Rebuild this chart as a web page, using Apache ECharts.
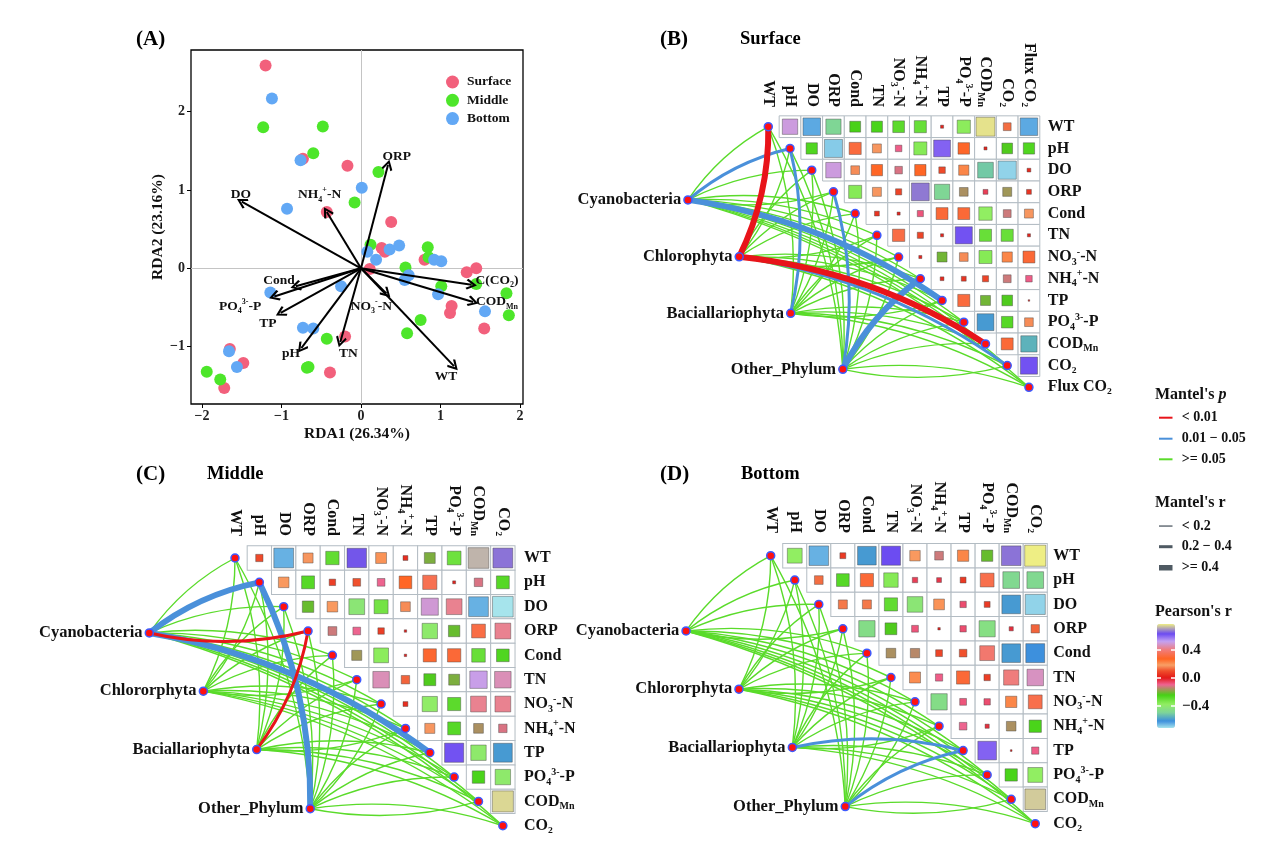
<!DOCTYPE html>
<html><head><meta charset="utf-8">
<script src="https://cdn.jsdelivr.net/npm/echarts@6/dist/echarts.min.js"></script>
<style>html,body{margin:0;padding:0;background:#fff}#c{width:1269px;height:861px}</style>
</head><body><div id="c"></div>
<script>
// ---------------- DATA ----------------
// Panel A : RDA site scores
const surfacePts = [[-1.20,2.59],[-0.73,1.40],[-0.17,1.31],[-0.43,0.72],[0.38,0.59],[0.26,0.26],[0.30,0.21],[0.80,0.11],[0.11,-0.01],[1.33,-0.05],[1.45,0.00],[1.14,-0.48],[1.12,-0.57],[1.55,-0.77],[-0.20,-0.87],[-0.39,-1.33],[-1.65,-1.03],[-1.48,-1.21],[-1.72,-1.53]];
const middlePts = [[-1.23,1.80],[-0.48,1.81],[-0.60,1.47],[0.22,1.23],[-0.08,0.84],[0.12,0.30],[0.84,0.27],[0.85,0.14],[0.56,0.01],[1.01,-0.23],[1.45,-0.20],[1.83,-0.32],[1.86,-0.60],[0.75,-0.66],[0.58,-0.83],[-0.43,-0.90],[-0.68,-1.27],[-0.66,-1.26],[-1.94,-1.32],[-1.77,-1.42]];
const bottomPts = [[-1.12,2.17],[-0.76,1.38],[0.01,1.03],[-0.93,0.76],[0.08,0.21],[0.19,0.11],[0.36,0.24],[0.48,0.29],[0.92,0.11],[1.01,0.09],[0.60,-0.09],[0.55,-0.15],[0.97,-0.33],[1.56,-0.55],[-0.25,-0.23],[-1.14,-0.31],[-0.73,-0.76],[-0.60,-0.77],[-1.66,-1.06],[-1.56,-1.26]];
// RDA environmental arrows
const arrowNames = ['ORP','DO','NH4','Cond','PO4','TP','pH','TN','NO3','WT','CCO2','COD'];
const arrowEnds = [[0.34,1.32],[-1.50,0.85],[-0.43,0.72],[-0.82,-0.23],[-1.09,-0.36],[-1.01,-0.57],[-0.75,-1.02],[-0.26,-0.94],[0.32,-0.32],[1.17,-1.25],[1.39,-0.21],[1.41,-0.43]];
const arrowLabelAt = [[0.45,1.43],[-1.51,0.94],[-0.52,0.94],[-1.03,-0.15],[-1.52,-0.49],[-1.17,-0.70],[-0.88,-1.09],[-0.16,-1.09],[0.13,-0.49],[1.07,-1.38],[1.71,-0.16],[1.71,-0.43]];
const rdaTicksX = [-2,-1,0,1,2];
const rdaTicksY = [-1,0,1,2];

// Mantel panels : variables
const envSurface = ['WT','pH','DO','ORP','Cond','TN','NO3','NH4','TP','PO4','COD','CO2','Flux'];
const envLayer = ['WT','pH','DO','ORP','Cond','TN','NO3','NH4','TP','PO4','COD','CO2'];
const phylaSurface = ['Cyanobacteria','Chlorophyta','Baciallariophyta','Other_Phylum'];
const phylaLayer = ['Cyanobacteria','Chlororphyta','Baciallariophyta','Other_Phylum'];

// Pearson's r, upper triangle (row i, columns i+1..)
const surfR = [
 [0.50,-0.65,-0.49,-0.25,-0.26,-0.29,-0.31,0.02,-0.37,0.76,0.13,-0.65],
 [-0.27,-0.69,0.31,0.17,-0.09,-0.36,0.60,0.28,0.02,-0.24,-0.27],
 [0.50,0.16,0.27,-0.12,0.27,0.09,0.22,-0.52,-0.70,0.03],
 [-0.36,0.17,0.08,0.67,-0.49,-0.16,-0.05,-0.17,0.05],
 [0.05,0.02,-0.08,0.30,0.30,-0.38,-0.13,0.17],
 [0.32,0.08,0.02,0.62,-0.31,-0.31,0.02],
 [0.02,-0.21,0.16,-0.36,0.22,0.30],
 [0.03,0.05,0.08,-0.13,-0.09],
 [0.31,-0.21,-0.24,0.005],
 [-0.60,-0.28,0.16],
 [0.30,-0.56],
 [0.62]
];
const midR = [
 [0.09,-0.66,0.17,-0.30,0.64,0.20,0.04,-0.20,-0.32,0.72,0.665],
 [0.19,-0.28,0.07,0.10,-0.10,0.27,0.34,0.015,-0.12,-0.28],
 [-0.22,0.19,-0.42,-0.33,0.16,0.49,0.42,-0.66,-0.72],
 [-0.13,-0.10,0.07,0.01,-0.40,-0.22,0.32,0.42],
 [-0.17,-0.37,0.01,0.29,0.30,-0.31,-0.27],
 [0.46,0.12,-0.24,-0.20,0.51,0.46],
 [0.04,-0.39,-0.29,0.42,0.42],
 [0.17,-0.28,-0.16,-0.12],
 [0.62,-0.40,-0.60],
 [-0.26,-0.40],
 [0.75]
];
const botR = [
 [-0.38,-0.66,0.06,-0.60,0.63,0.19,-0.13,0.22,-0.22,0.665,0.77],
 [0.13,-0.28,0.30,-0.36,-0.05,-0.04,0.06,0.33,-0.48,-0.48],
 [0.14,0.14,-0.30,-0.42,0.20,-0.07,0.06,-0.60,-0.70],
 [-0.46,-0.24,-0.08,0.01,-0.07,-0.45,-0.03,0.12],
 [-0.16,-0.15,0.08,0.10,0.38,-0.60,-0.62],
 [0.21,-0.09,0.30,0.07,0.40,0.47],
 [-0.46,-0.08,-0.07,0.22,0.33],
 [-0.10,-0.03,-0.16,-0.26],
 [0.60,0.005,-0.09],
 [-0.26,-0.38],
 [0.74]
];
// Mantel test p and r (rows: phyla, columns: variables)
const surfMantelP = [
 [0.21,0.032,0.35,0.18,0.44,0.27,0.52,0.16,0.021,0.38,0.25,0.31,0.47],
 [0.004,0.29,0.41,0.22,0.36,0.58,0.19,0.27,0.33,0.12,0.006,0.038,0.23],
 [0.17,0.027,0.46,0.31,0.29,0.62,0.35,0.24,0.55,0.41,0.28,0.37,0.19],
 [0.26,0.34,0.48,0.035,0.22,0.39,0.57,0.014,0.18,0.43,0.21,0.29,0.33]
];
const surfMantelR = [
 [0.15,0.31,0.08,0.12,0.06,0.10,0.05,0.14,0.46,0.09,0.11,0.07,0.06],
 [0.48,0.09,0.06,0.11,0.07,0.05,0.13,0.08,0.10,0.16,0.47,0.29,0.12],
 [0.13,0.30,0.06,0.09,0.10,0.05,0.08,0.11,0.06,0.07,0.12,0.09,0.14],
 [0.11,0.08,0.06,0.27,0.12,0.09,0.05,0.44,0.13,0.07,0.12,0.10,0.09]
];
const midMantelP = [
 [0.23,0.018,0.31,0.008,0.27,0.36,0.41,0.19,0.012,0.44,0.29,0.33],
 [0.28,0.37,0.22,0.46,0.19,0.51,0.33,0.26,0.41,0.18,0.35,0.24],
 [0.31,0.24,0.42,0.007,0.36,0.28,0.49,0.21,0.38,0.27,0.45,0.33],
 [0.19,0.026,0.35,0.28,0.44,0.31,0.22,0.39,0.27,0.52,0.17,0.36]
];
const midMantelR = [
 [0.12,0.47,0.09,0.26,0.11,0.07,0.10,0.13,0.45,0.06,0.09,0.08],
 [0.11,0.08,0.13,0.06,0.12,0.05,0.09,0.10,0.07,0.14,0.08,0.11],
 [0.09,0.12,0.07,0.27,0.08,0.11,0.06,0.13,0.09,0.10,0.07,0.12],
 [0.13,0.49,0.08,0.10,0.06,0.12,0.14,0.07,0.11,0.05,0.15,0.09]
];
const botMantelP = [
 [0.27,0.34,0.19,0.41,0.23,0.36,0.48,0.29,0.31,0.44,0.22,0.38],
 [0.33,0.21,0.45,0.28,0.39,0.17,0.52,0.26,0.35,0.41,0.24,0.30],
 [0.24,0.31,0.37,0.22,0.46,0.29,0.18,0.42,0.024,0.35,0.27,0.33],
 [0.29,0.26,0.41,0.34,0.21,0.47,0.32,0.25,0.031,0.39,0.28,0.36]
];
const botMantelR = [
 [0.12,0.08,0.14,0.07,0.10,0.06,0.05,0.11,0.09,0.07,0.13,0.08],
 [0.10,0.13,0.06,0.11,0.08,0.15,0.05,0.12,0.09,0.07,0.11,0.10],
 [0.13,0.09,0.07,0.12,0.06,0.10,0.14,0.08,0.26,0.09,0.11,0.07],
 [0.11,0.12,0.07,0.09,0.13,0.06,0.10,0.12,0.28,0.08,0.10,0.09]
];
// phylum anchor nodes (in cell units of each panel)
const phylaAtSurface = [[-3.70,3.37],[-1.34,5.99],[1.03,8.59],[3.43,11.17]];
const phylaAtMiddle = [[-3.52,3.08],[-1.30,5.47],[0.89,7.87],[3.09,10.30]];
const phylaAtBottom = [[-3.52,3.09],[-1.32,5.48],[0.90,7.87],[3.10,10.30]];
// Pearson colour scale
const pearsonRange = [-0.72, 0.77];
const pearsonTicks = [-0.4, 0, 0.4];
const pearsonStops = [[-0.72,'#A6E4EC'],[-0.62,'#3C8FDD'],[-0.50,'#7ED49A'],[-0.38,'#92EE62'],[-0.25,'#44D214'],[-0.10,'#F06494'],[0.0,'#E21818'],[0.10,'#F0502C'],[0.18,'#F8A066'],[0.27,'#FF6422'],[0.40,'#F07C7C'],[0.52,'#C4A2F2'],[0.63,'#6A4AF2'],[0.77,'#EEEE84']];

// ---------------- STYLE / HELPERS ----------------
const FONT = "'Times New Roman','Liberation Serif',serif";
const TXT = '#111';
const RED = '#E8141A', BLUE = '#4A90DA', GREEN = '#5ADB2A';
function mkRich(fs){
  const s = Math.round(fs*0.62);
  return {
    m:{fontFamily:FONT,fontWeight:'bold',fontSize:fs,color:TXT,lineHeight:fs+4},
    sb:{fontFamily:FONT,fontWeight:'bold',fontSize:s,color:TXT,verticalAlign:'bottom'},
    sp:{fontFamily:FONT,fontWeight:'bold',fontSize:s,color:TXT,verticalAlign:'top'}
  };
}
function richName(c){
  switch(c){
    case 'NH4': return '{m|NH}{sb|4}{sp|+}{m|-N}';
    case 'NO3': return '{m|NO}{sb|3}{sp|-}{m|-N}';
    case 'PO4': return '{m|PO}{sb|4}{sp|3-}{m|-P}';
    case 'COD': return '{m|COD}{sb|Mn}';
    case 'CO2': return '{m|CO\u2082}';
    case 'Flux': return '{m|Flux CO\u2082}';
    case 'CCO2': return '{m|C(CO\u2082)}';
    default: return '{m|'+c+'}';
  }
}
function pColor(p){ return p < 0.01 ? RED : (p < 0.05 ? BLUE : GREEN); }
function rWidth(r){ return r < 0.2 ? 1.4 : (r < 0.4 ? 3 : 6); }
function curv(x1,y1,x2,y2,cw,ch){
  const dx=(x2-x1)*cw, dyUp=-(y2-y1)*ch;
  const ang=Math.atan2(dyUp,dx)*180/Math.PI;
  const k=0.12;
  if (ang < -0.5) return k;
  if (ang < 10) return -k;
  if (ang <= 55) return k;
  return -k;
}
function hex2rgb(h){ return [parseInt(h.substr(1,2),16),parseInt(h.substr(3,2),16),parseInt(h.substr(5,2),16)]; }
function colorAt(v){
  for (let i=0;i<pearsonStops.length-1;i++){
    const a=pearsonStops[i], b=pearsonStops[i+1];
    if (v<=b[0]){ const t=(v-a[0])/(b[0]-a[0]); const ca=hex2rgb(a[1]), cb=hex2rgb(b[1]);
      return 'rgb('+ca.map((x,k)=>Math.round(x+(cb[k]-x)*t)).join(',')+')'; }
  }
  return pearsonStops[pearsonStops.length-1][1];
}
const colorArr=[]; for(let i=0;i<=150;i++){ colorArr.push(colorAt(pearsonRange[0]+(pearsonRange[1]-pearsonRange[0])*i/150)); }

const grids=[], xAxes=[], yAxes=[], series=[], squareIdx=[];

// ---------------- PANEL A ----------------
grids.push({left:191, top:50, width:332, height:354, show:true, borderColor:'#000', borderWidth:1.3, outerBoundsMode:'none'});
const minusFmt = v => (v<0 ? '\u2212'+(-v) : String(v));
xAxes.push({gridIndex:0, type:'value', min:-2.138, max:2.038,
  axisLine:{show:false,onZero:false}, splitLine:{show:false},
  axisTick:{show:true, customValues:rdaTicksX, length:4, lineStyle:{color:'#000',width:1}},
  axisLabel:{customValues:rdaTicksX, formatter:minusFmt, margin:5, fontFamily:FONT, fontWeight:'bold', fontSize:14, color:'#222'},
  name:'RDA1 (26.34%)', nameLocation:'middle', nameGap:22, nameTextStyle:{fontFamily:FONT,fontWeight:'bold',fontSize:15.5,color:TXT}});
yAxes.push({gridIndex:0, type:'value', min:-1.733, max:2.788,
  axisLine:{show:false,onZero:false}, splitLine:{show:false},
  axisTick:{show:true, customValues:rdaTicksY, length:4, lineStyle:{color:'#000',width:1}},
  axisLabel:{customValues:rdaTicksY, formatter:minusFmt, margin:6, fontFamily:FONT, fontWeight:'bold', fontSize:14, color:'#222'},
  name:'RDA2 (23.16%)', nameLocation:'middle', nameGap:24, nameTextStyle:{fontFamily:FONT,fontWeight:'bold',fontSize:15.5,color:TXT}});
const grpColors = {Surface:'#F2607C', Middle:'#4DE62A', Bottom:'#62A8F5'};
[['Surface',surfacePts],['Middle',middlePts],['Bottom',bottomPts]].forEach(([nm,pts],k)=>{
  const s = {type:'scatter', name:nm, xAxisIndex:0, yAxisIndex:0, data:pts, symbolSize:12,
    itemStyle:{color:grpColors[nm], opacity:1}, z:2, silent:true};
  if (k===0) s.markLine = {silent:true, symbol:'none', label:{show:false}, lineStyle:{color:'#c4c4c4', type:'solid', width:1}, data:[{xAxis:0},{yAxis:0}], z:1};
  series.push(s);
});
series.push({type:'lines', coordinateSystem:'cartesian2d', xAxisIndex:0, yAxisIndex:0, silent:true, z:3,
  symbol:['none','path://M5,0 L10,8.6 L8.5,10 L5,3.6 L1.5,10 L0,8.6 Z'], symbolSize:11,
  lineStyle:{color:'#000', width:2, opacity:1},
  data: arrowEnds.map(e=>({coords:[[0,0],e]}))});
series.push({type:'scatter', xAxisIndex:0, yAxisIndex:0, silent:true, z:4, symbolSize:1, itemStyle:{color:'rgba(0,0,0,0)', opacity:1},
  data: arrowLabelAt.map((p,i)=>({value:p, name:arrowNames[i]})),
  label:{show:true, position:'inside', formatter:p=>richName(p.name), rich:mkRich(13.5)}});

// ---------------- MANTEL PANELS ----------------
function buildMantel(P){
  const gi = grids.length;
  const {ox,oy,cw,ch,xr,yr} = P;
  grids.push({left:ox+xr[0]*cw, top:oy+yr[0]*ch, width:(xr[1]-xr[0])*cw, height:(yr[1]-yr[0])*ch, outerBoundsMode:'none'});
  const idx = P.names.map((_,i)=>i);
  const rich = mkRich(16);
  xAxes.push({gridIndex:gi, type:'value', min:xr[0], max:xr[1], position:'top',
    axisLine:{show:false,onZero:false}, axisTick:{show:false}, splitLine:{show:false},
    axisLabel:{customValues:idx, rotate:90, margin:3, formatter:v=>richName(P.names[Math.round(v)]), rich}});
  yAxes.push({gridIndex:gi, type:'value', inverse:true, min:yr[0], max:yr[1], position:'right',
    axisLine:{show:false,onZero:false}, axisTick:{show:false}, splitLine:{show:false},
    axisLabel:{customValues:idx, margin:P.rowGap, formatter:v=>richName(P.names[Math.round(v)]), rich}});
  const ax = {xAxisIndex:gi, yAxisIndex:gi};
  const bg=[], sq=[];
  P.r.forEach((row,i)=>row.forEach((v,k)=>{const j=i+1+k; bg.push([j,i]); sq.push([j,i,v]);}));
  series.push({type:'scatter', ...ax, data:bg, symbol:'rect', symbolSize:[cw,ch], silent:true, z:1, clip:false,
    itemStyle:{color:'#fff', borderColor:'#B3BCC3', borderWidth:1, opacity:1}});
  squareIdx.push(series.length);
  const cs = Math.min(cw,ch);
  series.push({type:'scatter', ...ax, data:sq, symbol:'rect', symbolSize:v=>Math.sqrt(Math.abs(v[2]))*cs, silent:true, z:2, clip:false,
    itemStyle:{borderColor:'rgba(70,70,70,0.55)', borderWidth:0.8, opacity:1}});
  const links=[];
  P.phylaAt.forEach((pp,a)=>P.names.forEach((n,t)=>{
    const p=P.mp[a][t], r=P.mr[a][t];
    links.push({p:p, coords:[pp,[t,t]], lineStyle:{color:pColor(p), width:rWidth(r), curveness:curv(pp[0],pp[1],t,t,cw,ch), opacity:1}});
  }));
  links.sort((a,b)=>b.p-a.p);
  series.push({type:'lines', coordinateSystem:'cartesian2d', ...ax, data:links.map(l=>({coords:l.coords, lineStyle:l.lineStyle})),
    z:3, silent:true, clip:false, symbol:'none', lineStyle:{opacity:1}});
  series.push({type:'scatter', ...ax, data:idx.map(i=>[i,i]), symbolSize:8, silent:true, z:4, clip:false,
    itemStyle:{color:'#FF1010', borderColor:'#3D5BFF', borderWidth:1.5, opacity:1}});
  series.push({type:'scatter', ...ax, data:P.phylaAt.map((p,i)=>({value:p, name:P.phyla[i]})), symbolSize:8, silent:true, z:4, clip:false,
    itemStyle:{color:'#FF1010', borderColor:'#3D5BFF', borderWidth:1.5, opacity:1},
    label:{show:true, position:'left', distance:2, formatter:p=>p.name, fontFamily:FONT, fontWeight:'bold', fontSize:16.5, color:TXT}});
}
buildMantel({names:envSurface, phyla:phylaSurface, phylaAt:phylaAtSurface, r:surfR, mp:surfMantelP, mr:surfMantelR,
  ox:768.3, oy:126.7, cw:21.72, ch:21.72, xr:[-5,12.5], yr:[-0.77,13], rowGap:8});
buildMantel({names:envLayer, phyla:phylaLayer, phylaAt:phylaAtMiddle, r:midR, mp:midMantelP, mr:midMantelR,
  ox:235, oy:558, cw:24.35, ch:24.34, xr:[-5,11.5], yr:[-0.78,12.2], rowGap:9});
buildMantel({names:envLayer, phyla:phylaLayer, phylaAt:phylaAtBottom, r:botR, mp:botMantelP, mr:botMantelR,
  ox:770.7, oy:555.7, cw:24.05, ch:24.36, xr:[-5,11.5], yr:[-0.81,12.2], rowGap:6});

// ---------------- COLOUR BAR AXIS ----------------
const cbg = grids.length;
grids.push({left:1157, top:624, width:18, height:104, outerBoundsMode:'none'});
xAxes.push({gridIndex:cbg, type:'value', show:false, min:0, max:1});
const cbLabel = v => (v<0 ? '\u2212'+(-v).toFixed(1) : v.toFixed(1));
yAxes.push({gridIndex:cbg, type:'value', min:pearsonRange[0], max:pearsonRange[1], position:'right', z:10,
  axisLine:{show:false,onZero:false}, splitLine:{show:false},
  axisTick:{show:true, inside:true, length:4, customValues:pearsonTicks, lineStyle:{color:'#fff',width:1.5}},
  axisLabel:{customValues:pearsonTicks, formatter:cbLabel, margin:7, fontFamily:FONT, fontWeight:'bold', fontSize:15, color:TXT}});
yAxes.push({gridIndex:cbg, type:'value', min:pearsonRange[0], max:pearsonRange[1], position:'left', z:10,
  axisLine:{show:false,onZero:false}, splitLine:{show:false},
  axisTick:{show:true, inside:true, length:4, customValues:pearsonTicks, lineStyle:{color:'#fff',width:1.5}},
  axisLabel:{show:false}});

// ---------------- GRAPHIC LEGENDS ----------------
const lg = (x,y,t,fs)=>({type:'text', x:x, y:y, z:100, style:{text:t, fill:TXT, font:'bold '+fs+'px '+FONT, align:'left', verticalAlign:'middle'}});
const graphic = [
  {type:'text', x:1155, y:395, z:100, style:{text:"{a|Mantel's }{b|p}", align:'left', verticalAlign:'middle',
    rich:{a:{fontFamily:FONT,fontWeight:'bold',fontSize:16,fill:TXT}, b:{fontFamily:FONT,fontWeight:'bold',fontStyle:'italic',fontSize:16,fill:TXT}}}},
  {type:'rect', z:100, shape:{x:1159, y:416.7, width:13.5, height:2}, style:{fill:RED}},
  {type:'rect', z:100, shape:{x:1159, y:437.7, width:13.5, height:2}, style:{fill:BLUE}},
  {type:'rect', z:100, shape:{x:1159, y:458.3, width:13.5, height:2}, style:{fill:GREEN}},
  lg(1181.7,417.7,'< 0.01',14), lg(1181.7,438.7,'0.01 \u2212 0.05',14), lg(1181.7,459.3,'>= 0.05',14),
  lg(1155,502.7,"Mantel's r",16),
  {type:'rect', z:100, shape:{x:1159, y:525.4, width:13.5, height:1.3}, style:{fill:'#4F5A63'}},
  {type:'rect', z:100, shape:{x:1159, y:545.2, width:13.5, height:3}, style:{fill:'#4F5A63'}},
  {type:'rect', z:100, shape:{x:1159, y:565, width:13.5, height:5.5}, style:{fill:'#4F5A63'}},
  lg(1181.7,526,'< 0.2',14), lg(1181.7,546.7,'0.2 \u2212 0.4',14), lg(1181.7,567.7,'>= 0.4',14),
  lg(1155,611.7,"Pearson's r",16)
];

const titleStyle = fs => ({fontFamily:FONT, fontWeight:'bold', fontSize:fs, color:'#000'});
const option = {
  animation:false,
  backgroundColor:'#fff',
  title:[
    {text:'(A)', left:136, top:29, padding:0, textStyle:titleStyle(21)},
    {text:'(B)', left:660, top:29, padding:0, textStyle:titleStyle(21)},
    {text:'Surface', left:740, top:30, padding:0, textStyle:titleStyle(18.5)},
    {text:'(C)', left:136, top:464, padding:0, textStyle:titleStyle(21)},
    {text:'Middle', left:207, top:465, padding:0, textStyle:titleStyle(18.5)},
    {text:'(D)', left:660, top:464, padding:0, textStyle:titleStyle(21)},
    {text:'Bottom', left:741, top:465, padding:0, textStyle:titleStyle(18.5)}
  ],
  legend:[{data:['Surface','Middle','Bottom'], orient:'vertical', left:446, top:75, padding:0, itemGap:4.3,
    icon:'circle', itemWidth:13, itemHeight:13, selectedMode:false,
    textStyle:{fontFamily:FONT, fontWeight:'bold', fontSize:13.5, color:TXT, lineHeight:13, padding:[0,0,0,3]}}],
  visualMap:[{type:'continuous', min:pearsonRange[0], max:pearsonRange[1], dimension:2, seriesIndex:squareIdx,
    inRange:{color:colorArr}, left:1157, top:624, itemWidth:18, itemHeight:104, calculable:false, padding:0, text:null, z:5}],
  grid:grids, xAxis:xAxes, yAxis:yAxes, series:series, graphic:graphic
};
const chart = echarts.init(document.getElementById('c'), null, {renderer:'canvas', width:1269, height:861});
chart.setOption(option);
</script></body></html>
